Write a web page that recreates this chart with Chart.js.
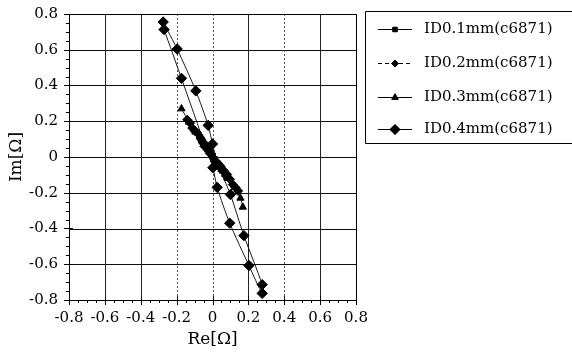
<!DOCTYPE html>
<html>
<head>
<meta charset="utf-8">
<script src="https://cdn.jsdelivr.net/npm/chart.js@4/dist/chart.umd.min.js"></script>
<style>
  html, body { margin: 0; padding: 0; background: #fff; }
  #wrap { width: 572px; height: 356px; position: relative; }
</style>
</head>
<body>
<div id="wrap"><canvas id="c" width="572" height="356"></canvas></div>
<script>
// Impedance trajectories (Re, Im in ohms) for four inner diameters
const seriesNames = ['ID0.1mm(c6871)', 'ID0.2mm(c6871)', 'ID0.3mm(c6871)', 'ID0.4mm(c6871)'];

const re01 = [-0.070, -0.055, -0.040, -0.025, -0.012, 0.000, 0.012, 0.025, 0.040, 0.055, 0.068, 0.080];
const im01 = [ 0.110,  0.085,  0.065,  0.045,  0.025, 0.005, -0.015, -0.035, -0.055, -0.075, -0.095, -0.115];

const re02 = [-0.141, -0.125, -0.113, -0.098, -0.085, -0.067, -0.055, -0.045, -0.030, -0.015, 0.000, 0.015, 0.030, 0.045, 0.062, 0.082, 0.098, 0.113, 0.128, 0.143];
const im02 = [ 0.209,  0.190,  0.162,  0.145,  0.134,  0.106,  0.085,  0.060,  0.045,  0.020, 0.000, -0.020, -0.035, -0.052, -0.075, -0.098, -0.125, -0.154, -0.170, -0.190];

const re03 = [-0.173, -0.130, -0.095, -0.060, -0.025, 0.010, 0.050, 0.090, 0.125, 0.156, 0.169];
const im03 = [ 0.270,  0.195,  0.140,  0.090,  0.040, -0.015, -0.070, -0.120, -0.170, -0.230, -0.280];

const re04 = [-0.275, -0.197, -0.093, -0.024, 0.000, 0.030, 0.100, 0.175, 0.277, 0.277, 0.203, 0.096, 0.026, 0.002, -0.040, -0.173, -0.270];
const im04 = [ 0.755,  0.604,  0.370,  0.177, 0.073, -0.040, -0.210, -0.440, -0.714, -0.763, -0.607, -0.370, -0.170, -0.060, 0.060, 0.440, 0.713];

const xTicks = [-0.8, -0.6, -0.4, -0.2, 0, 0.2, 0.4, 0.6, 0.8];
const yTicks = [-0.8, -0.6, -0.4, -0.2, 0, 0.2, 0.4, 0.6, 0.8];

const pts = (xs, ys) => xs.map((x, i) => ({ x: x, y: ys[i] }));
const FONT = '"DejaVu Serif", "Liberation Serif", serif';

const datasets = [
  { label: seriesNames[0], data: pts(re01, im01), pointStyle: 'rect', pointRadius: 4, legendRadius: 3.2, borderDash: [] },
  { label: seriesNames[1], data: pts(re02, im02), pointStyle: 'rectRot', pointRadius: 4.5, legendRadius: 3.5, borderDash: [4, 3] },
  { label: seriesNames[2], data: pts(re03, im03), pointStyle: 'triangle', pointRadius: 4.2, legendRadius: 3.8, borderDash: [] },
  { label: seriesNames[3], data: pts(re04, im04), pointStyle: 'rectRot', pointRadius: 5.2, legendRadius: 5, borderDash: [] }
].map(d => Object.assign(d, {
  showLine: true,
  borderColor: '#000',
  backgroundColor: '#000',
  pointBackgroundColor: '#000',
  pointBorderColor: '#000',
  pointBorderWidth: 1,
  borderWidth: 0.9,
  tension: 0.25
}));

// Vertical grid lines: solid for some, dotted for others
const vStyle = { '-0.6': 's', '-0.4': 's', '-0.2': 'd', '0': 'd', '0.2': 's', '0.4': 'd', '0.6': 's' };

const decor = {
  id: 'decor',
  beforeDatasetsDraw(chart) {
    const { ctx, chartArea: a, scales: { x, y } } = chart;
    ctx.save();
    // horizontal grid
    ctx.strokeStyle = '#111';
    ctx.lineWidth = 1;
    yTicks.forEach(v => {
      const py = Math.round(y.getPixelForValue(v)) + 0.5;
      ctx.beginPath(); ctx.moveTo(a.left, py); ctx.lineTo(a.right, py); ctx.stroke();
    });
    // vertical grid
    xTicks.forEach(v => {
      const st = vStyle[String(v)];
      if (!st) return;
      const px = Math.round(x.getPixelForValue(v)) + 0.5;
      ctx.setLineDash(st === 's' ? [] : [2, 2]);
      ctx.strokeStyle = st === 's' ? '#222' : '#555';
      ctx.beginPath(); ctx.moveTo(px, a.top); ctx.lineTo(px, a.bottom); ctx.stroke();
    });
    ctx.setLineDash([]);
    // plot frame
    ctx.strokeStyle = '#000';
    ctx.lineWidth = 1;
    ctx.strokeRect(Math.round(a.left) + 0.5, Math.round(a.top) + 0.5, Math.round(a.right - a.left), Math.round(a.bottom - a.top));
    // major and minor ticks on left and bottom axes
    ctx.beginPath();
    for (let v = -0.8; v <= 0.8001; v += 0.05) {
      const major = Math.abs(v * 5 - Math.round(v * 5)) < 1e-6;
      const py = Math.round(y.getPixelForValue(v)) + 0.5;
      ctx.moveTo(a.left - (major ? 5 : 3), py); ctx.lineTo(a.left + (major ? 4 : 0), py);
      const px = Math.round(x.getPixelForValue(v)) + 0.5;
      ctx.moveTo(px, a.bottom + (major ? 5 : 3)); ctx.lineTo(px, a.bottom - (major ? 4 : 0));
    }
    ctx.stroke();
    ctx.restore();
  },
  afterDraw(chart) {
    const { ctx } = chart;
    ctx.save();
    // legend frame
    ctx.strokeStyle = '#000';
    ctx.lineWidth = 1;
    ctx.beginPath();
    ctx.moveTo(580, 11.5); ctx.lineTo(365.5, 11.5); ctx.lineTo(365.5, 143.5); ctx.lineTo(580, 143.5);
    ctx.stroke();
    const rows = [29, 63, 97, 129];
    chart.data.datasets.forEach((ds, i) => {
      const yy = rows[i] + 0.5;
      ctx.strokeStyle = '#000';
      ctx.lineWidth = 1;
      ctx.setLineDash(ds.borderDash);
      ctx.beginPath(); ctx.moveTo(378, yy); ctx.lineTo(412, yy); ctx.stroke();
      ctx.setLineDash([]);
      ctx.fillStyle = '#000';
      Chart.helpers.drawPoint(ctx, {
        pointStyle: ds.pointStyle, radius: ds.legendRadius, borderWidth: 1, rotation: 0
      }, 395, yy);
      ctx.fill();
      ctx.font = '15px ' + FONT;
      ctx.textBaseline = 'middle';
      ctx.textAlign = 'left';
      ctx.fillText(ds.label, 424, yy);
    });
    ctx.restore();
  }
};

new Chart(document.getElementById('c'), {
  type: 'scatter',
  data: { datasets: datasets },
  options: {
    responsive: false,
    animation: false,
    layout: { padding: { left: 6, right: 216, top: 14, bottom: 6 } },
    plugins: { legend: { display: false }, tooltip: { enabled: false } },
    scales: {
      x: {
        type: 'linear', min: -0.8, max: 0.8,
        afterBuildTicks: s => { s.ticks = xTicks.map(v => ({ value: v })); },
        afterFit: s => { s.height = 50; s.paddingLeft = 0; s.paddingRight = 0; },
        grid: { display: false, drawTicks: false },
        border: { display: false },
        ticks: {
          color: '#000', padding: 9,
          font: { family: FONT, size: 15 },
          callback: v => String(Math.round(v * 10) / 10)
        },
        title: { display: true, text: 'Re[Ω]', color: '#000', padding: { top: 0, bottom: 0 }, font: { family: FONT, size: 17 } }
      },
      y: {
        type: 'linear', min: -0.8, max: 0.8,
        afterBuildTicks: s => { s.ticks = yTicks.map(v => ({ value: v })); },
        afterFit: s => { s.width = 63; s.paddingTop = 0; s.paddingBottom = 0; },
        grid: { display: false, drawTicks: false },
        border: { display: false },
        ticks: {
          color: '#000', padding: 11,
          font: { family: FONT, size: 15 },
          callback: v => String(Math.round(v * 10) / 10)
        },
        title: { display: true, text: 'Im[Ω]', color: '#000', padding: { top: 0, bottom: 0 }, font: { family: FONT, size: 17 } }
      }
    }
  },
  plugins: [decor]
});
</script>
</body>
</html>
